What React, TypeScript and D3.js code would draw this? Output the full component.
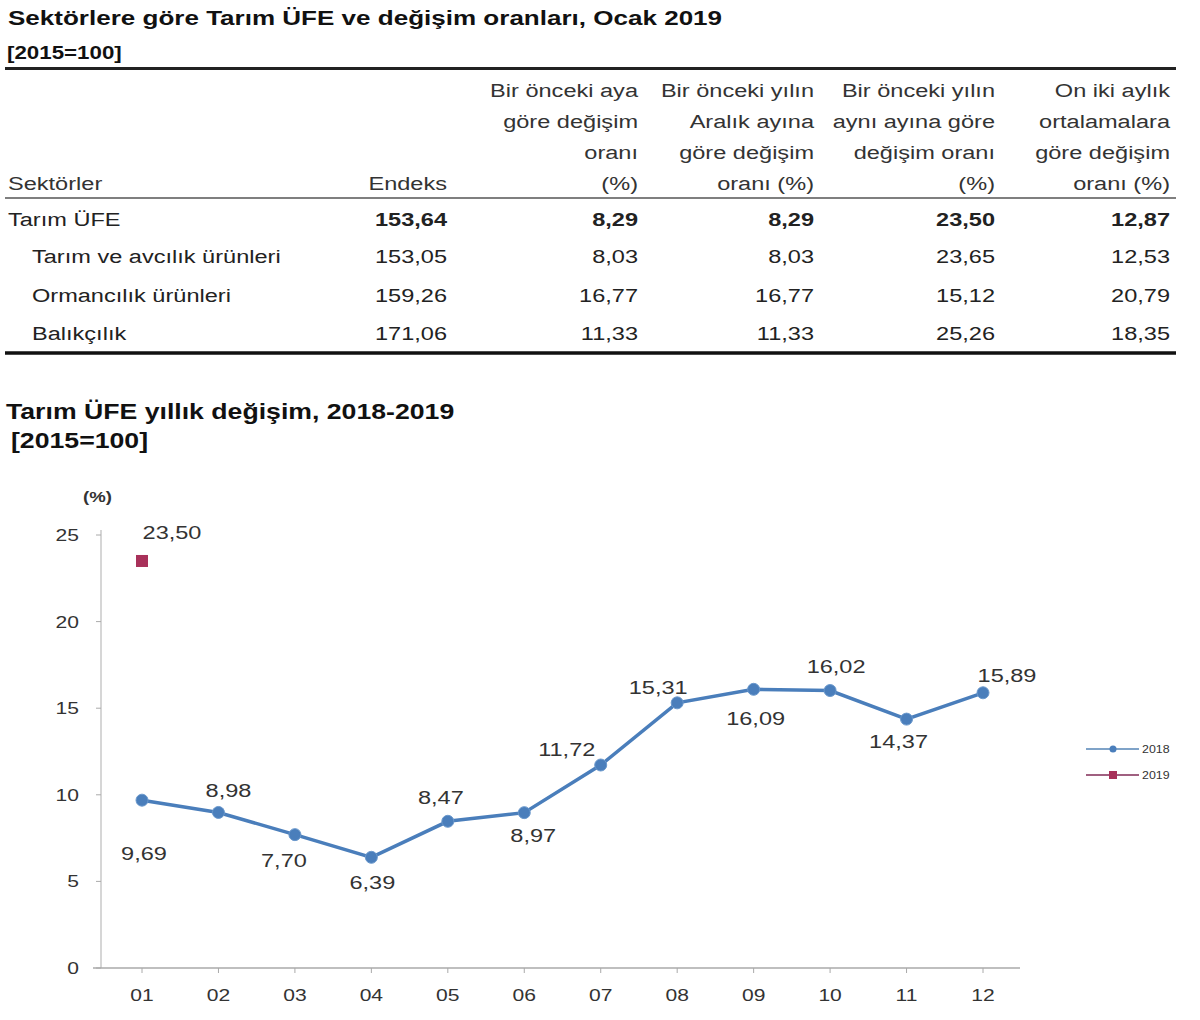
import React from "react";
import * as d3 from "d3";

// ---------- Table data ----------
const sectors = ["Tarım ÜFE", "Tarım ve avcılık ürünleri", "Ormancılık ürünleri", "Balıkçılık"];
const endeks = ["153,64", "153,05", "159,26", "171,06"];
const aylik = ["8,29", "8,03", "16,77", "11,33"];
const aralik = ["8,29", "8,03", "16,77", "11,33"];
const yillikTable = ["23,50", "23,65", "15,12", "25,26"];
const onIki = ["12,87", "12,53", "20,79", "18,35"];

const headerSektor = "Sektörler";
const headerEndeks = "Endeks";
const headerAylik = ["Bir önceki aya", "göre değişim", "oranı", "(%)"];
const headerAralik = ["Bir önceki yılın", "Aralık ayına", "göre değişim", "oranı (%)"];
const headerYillik = ["Bir önceki yılın", "aynı ayına göre", "değişim oranı", "(%)"];
const headerOnIki = ["On iki aylık", "ortalamalara", "göre değişim", "oranı (%)"];

// ---------- Chart data ----------
const months = ["01", "02", "03", "04", "05", "06", "07", "08", "09", "10", "11", "12"];
const values2018 = [9.69, 8.98, 7.7, 6.39, 8.47, 8.97, 11.72, 15.31, 16.09, 16.02, 14.37, 15.89];
const values2019 = [23.5];
const yTicks = [0, 5, 10, 15, 20, 25];
const seriesNames = ["2018", "2019"];

// label placement (layout only)
const labelPlacement: [number, number][] = [
  [2, 53], [10, -22], [-11, 25], [1, 25], [-7, -24], [9, 22],
  [-34, -16], [-19, -16], [2, 29], [6, -25], [-8, 22], [24, -18],
];

const FONT = "'Liberation Sans', Arial, sans-serif";
const SX = 1.24;
const fmt = (v: number) => v.toFixed(2).replace(".", ",");

type TProps = {
  x: number;
  y: number;
  size: number;
  anchor?: "start" | "middle" | "end";
  bold?: boolean;
  fill?: string;
  children: React.ReactNode;
};
function T({ x, y, size, anchor = "start", bold = false, fill = "#222", children }: TProps) {
  return (
    <g transform={`translate(${x},${y}) scale(${SX},1)`}>
      <text x={0} y={0} fontSize={size} fontWeight={bold ? "bold" : "normal"} fill={fill} textAnchor={anchor}>
        {children}
      </text>
    </g>
  );
}

export default function App() {
  const x = d3.scalePoint<string>().domain(months).range([142, 983]);
  const y = d3.scaleLinear().domain([0, 25]).range([968, 535]);
  const line = d3
    .line<number>()
    .x((_, i) => x(months[i]) as number)
    .y((d) => y(d));

  const colRight = [447, 638, 814, 995, 1170];
  const headerBase = [97, 128, 159, 190];
  const rowBase = [226, 263, 302, 340];
  const cols = [endeks, aylik, aralik, yillikTable, onIki];
  const headers = [headerAylik, headerAralik, headerYillik, headerOnIki];

  const blue = "#4a7ebb";
  const red = "#a8315a";
  const textCol = "#222";
  const headCol = "#333";

  return (
    <div style={{ position: "absolute", left: 0, top: 0 }}>
      <svg width={1200} height={1020} style={{ display: "block", fontFamily: FONT }}>
        <rect width={1200} height={1020} fill="#fff" />
        {/* Table title */}
        <T x={8} y={25} size={21} bold fill="#111">
          Sektörlere göre Tarım ÜFE ve değişim oranları, Ocak 2019
        </T>
        <T x={7} y={59} size={18} bold fill="#111">
          [2015=100]
        </T>
        <line x1={5} x2={1176} y1={68.5} y2={68.5} stroke="#222" strokeWidth={3} />

        {/* header */}
        <T x={8} y={headerBase[3]} size={19} fill={headCol}>
          {headerSektor}
        </T>
        <T x={colRight[0]} y={headerBase[3]} size={19} fill={headCol} anchor="end">
          {headerEndeks}
        </T>
        {headers.map((h, ci) =>
          h.map((t, li) => (
            <T key={`h${ci}-${li}`} x={colRight[ci + 1]} y={headerBase[li]} size={19} fill={headCol} anchor="end">
              {t}
            </T>
          ))
        )}
        <line x1={5} x2={1176} y1={198} y2={198} stroke="#555" strokeWidth={1.5} />

        {/* rows */}
        {sectors.map((s, ri) => (
          <g key={`r${ri}`}>
            <T x={ri === 0 ? 8 : 32} y={rowBase[ri]} size={19} fill={textCol}>
              {s}
            </T>
            {cols.map((c, ci) => (
              <T key={`c${ci}`} x={colRight[ci]} y={rowBase[ri]} size={19} fill={textCol} anchor="end" bold={ri === 0}>
                {c[ri]}
              </T>
            ))}
          </g>
        ))}
        <line x1={5} x2={1176} y1={353} y2={353} stroke="#111" strokeWidth={3.5} />

        {/* Chart title */}
        <T x={6} y={419} size={21.5} bold fill="#111">
          Tarım ÜFE yıllık değişim, 2018-2019
        </T>
        <T x={11} y={448} size={21.5} bold fill="#111">
          [2015=100]
        </T>
        <T x={83} y={502} size={15} bold fill="#333">
          (%)
        </T>

        {/* axes */}
        <line x1={101} x2={101} y1={530} y2={968} stroke="#c8c8c8" strokeWidth={1.5} />
        <line x1={93} x2={1020} y1={968} y2={968} stroke="#aaa" strokeWidth={1.5} />
        {yTicks.map((t) => (
          <g key={`y${t}`}>
            <line x1={96} x2={101} y1={y(t)} y2={y(t)} stroke="#aaa" />
            <T x={79} y={y(t) + 6} size={17} fill="#333" anchor="end">
              {t}
            </T>
          </g>
        ))}
        {months.map((m) => (
          <g key={`x${m}`}>
            <line x1={x(m)} x2={x(m)} y1={968} y2={973} stroke="#aaa" />
            <T x={x(m) as number} y={1001} size={17} fill="#333" anchor="middle">
              {m}
            </T>
          </g>
        ))}

        {/* 2018 line */}
        <path d={line(values2018) || ""} fill="none" stroke={blue} strokeWidth={3.5} />
        {values2018.map((v, i) => (
          <circle key={`p${i}`} cx={x(months[i])} cy={y(v)} r={6} fill={blue} stroke="#6a98cc" strokeWidth={1} />
        ))}
        {values2018.map((v, i) => (
          <T
            key={`l${i}`}
            x={(x(months[i]) as number) + labelPlacement[i][0]}
            y={y(v) + labelPlacement[i][1] + 7}
            size={19}
            fill="#333"
            anchor="middle"
          >
            {fmt(v)}
          </T>
        ))}

        {/* 2019 */}
        {values2019.map((v, i) => (
          <g key={`q${i}`}>
            <rect x={(x(months[i]) as number) - 6} y={y(v) - 6} width={12} height={12} fill={red} />
            <T x={(x(months[i]) as number) + 30} y={y(v) - 22} size={19} fill="#333" anchor="middle">
              {fmt(v)}
            </T>
          </g>
        ))}

        {/* legend */}
        {seriesNames.map((n, i) => (
          <g key={`lg${n}`} transform={`translate(1086,${749 + i * 26})`}>
            <line x1={0} x2={53} y1={0} y2={0} stroke={i === 0 ? "#7fa3c8" : "#a06080"} strokeWidth={2} />
            {i === 0 ? (
              <circle cx={27} cy={0} r={3.5} fill={blue} />
            ) : (
              <rect x={23} y={-4} width={8} height={8} fill={red} />
            )}
            <T x={56} y={3.5} size={10} fill="#333">
              {n}
            </T>
          </g>
        ))}
      </svg>
    </div>
  );
}
